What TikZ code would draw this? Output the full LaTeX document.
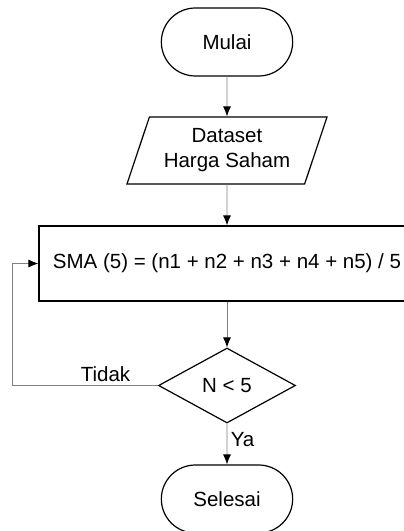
\documentclass[tikz,border=0pt]{standalone}
\usepackage{fontspec}
\setmainfont{Liberation Sans}
\usetikzlibrary{shapes.geometric, shapes.misc, arrows.meta}
\tikzstyle{term}=[draw, rounded rectangle, minimum width=138pt, minimum height=68pt, line width=1.2pt]
\tikzstyle{io}=[draw, trapezium, trapezium left angle=69, trapezium right angle=111, trapezium stretches=true, minimum width=200pt, minimum height=67pt, align=center, line width=1.2pt]
\tikzstyle{proc}=[draw, rectangle, minimum width=376pt, minimum height=75pt, line width=1.2pt]
\tikzstyle{dec}=[draw, diamond, minimum width=137pt, minimum height=75pt, inner sep=0pt, line width=1.2pt]
\tikzstyle{line}=[draw=black!50, line width=0.9pt]

\begin{document}
\begin{tikzpicture}[node distance=110pt, font=\fontsize{20.5}{25}\selectfont, >={Latex[length=10pt,width=8pt,black]}]
  \useasboundingbox (0,0) rectangle (404pt,-531pt);
  \clip (0,0) rectangle (404pt,-531pt);
  \node [term] (mulai) at (227pt,-42pt) {Mulai};
  \node [io, below of=mulai, node distance=108.5pt] (data) {Dataset\\Harga Saham};
  \node [proc, below of=data, node distance=113pt] (sma) {SMA (5) = (n1 + n2 + n3 + n4 + n5) / 5};
  \node [dec, below of=sma, node distance=122pt] (cek) {N < 5};
  \node [term, below of=cek, node distance=113.5pt] (selesai) {Selesai};
  \path (sma.west) ++(-26pt,0) coordinate (balik);
  % alur utama
  \draw [line,->] (mulai) -- (data);
  \draw [line,->] (data) -- (sma);
  \draw [line,->] (sma) -- (cek);
  \draw [line,->] (cek) -- node[right, pos=0.4] {Ya} (selesai);
  % kembali ke SMA
  \draw [line,->] (cek.west) -- node[above, pos=0.36] {Tidak} (cek.west -| balik) |- (sma.west);
\end{tikzpicture}
\end{document}
